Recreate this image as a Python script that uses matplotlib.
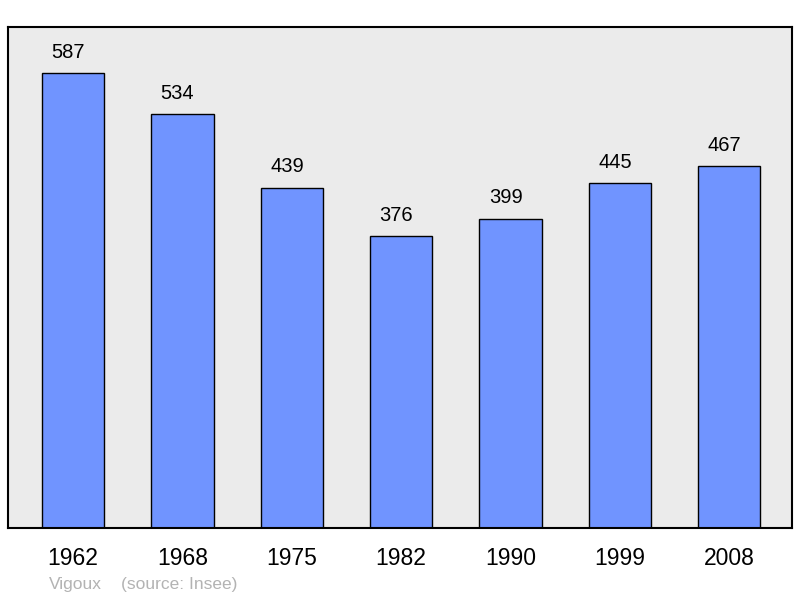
import matplotlib.pyplot as plt

years = ['1962', '1968', '1975', '1982', '1990', '1999', '2008']
population = [587, 534, 439, 376, 399, 445, 467]

plt.rcParams['font.family'] = ['Liberation Sans', 'DejaVu Sans']

fig = plt.figure(figsize=(8, 5.98), dpi=100)
ax = fig.add_axes([8 / 800, 1 - 528 / 598, 784 / 800, 501 / 598])
ax.set_facecolor('#ebebeb')

positions = range(len(years))
ax.bar(positions, population, width=0.57, color='#7094ff', edgecolor='black', linewidth=1.0, zorder=2)

for pos, value in zip(positions, population):
    ax.annotate(str(value), (pos, value), xytext=(-3.5, 8), textcoords='offset points',
                ha='center', va='bottom', fontsize=14.5)

ax.set_xlim(-0.594, 6.573)
ax.set_ylim(0, 646)
ax.set_yticks([])
ax.set_xticks(list(positions))
ax.set_xticklabels(years, fontsize=16.5)
ax.tick_params(axis='x', length=0, pad=13.5)
for spine in ax.spines.values():
    spine.set_linewidth(1.5)

fig.text(49 / 800, 1 - 584 / 598, 'Vigoux', color='#b3b3b3', fontsize=12.5, va='center')
fig.text(121 / 800, 1 - 584 / 598, '(source: Insee)', color='#b3b3b3', fontsize=12.5, va='center')

fig.savefig('out.png', dpi=100)
